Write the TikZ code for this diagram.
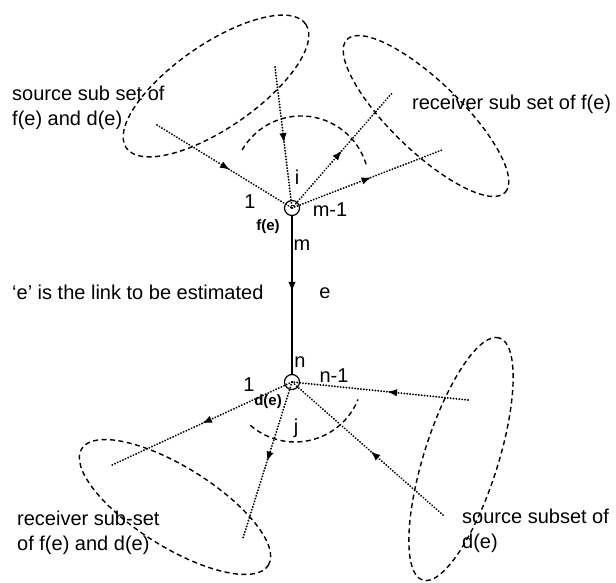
\documentclass[tikz,border=0pt]{standalone}
\usepackage{fontspec}
\setmainfont{Liberation Sans}
\usetikzlibrary{arrows.meta,decorations.markings}
\begin{document}
\begin{tikzpicture}[x=1pt,y=1pt,
  every node/.style={font=\fontsize{20}{25}\selectfont, inner sep=0pt},
  setline/.style={dash pattern=on 5pt off 3.5pt, line width=1.4pt},
  dotline/.style={dash pattern=on 0.01pt off 2.9pt, line cap=round, line width=2.1pt},
  midarrow/.style={postaction={decorate},
    decoration={markings, mark=at position #1 with {\arrow{Latex[length=10pt,width=7.5pt]}}}},
  endpt/.style={circle, draw, line width=1.2pt, minimum size=15pt},
  small/.style={font=\fontsize{15}{18}\selectfont\bfseries}
]
\useasboundingbox (0,0) rectangle (616,-583);

% end nodes
\node[endpt] (f) at (292,-208) {};
\node[endpt] (d) at (292,-382) {};

% free ends of connectors
\coordinate (a1) at (157,-125);
\coordinate (a2) at (275,-67);
\coordinate (a3) at (392,-93);
\coordinate (a4) at (442,-150);
\coordinate (b1) at (112,-465);
\coordinate (b2) at (243,-538);
\coordinate (b3) at (468,-400);
\coordinate (b4) at (443,-515);

% sub-set ellipses
\draw[setline, rotate around={34.6:(216,-86)}] (216,-86) ellipse [x radius=109, y radius=42];
\draw[setline, rotate around={-44:(426,-116)}] (426,-116) ellipse [x radius=110, y radius=35];
\draw[setline, rotate around={72.4:(461,-459)}] (461,-459) ellipse [x radius=127, y radius=37];
\draw[setline, rotate around={-32:(175,-507)}] (175,-507) ellipse [x radius=110, y radius=40];

% dashed arcs
\draw[setline] (301,-184) ++(150:68) arc [start angle=150, end angle=16, radius=68];
\draw[setline] (295,-374) ++(229:68) arc [start angle=229, end angle=338, radius=68];

% dotted connectors at f(e)
\draw[dotline, midarrow=0.54] (a1) -- (f.center);
\draw[dotline, midarrow=0.54] (a2) -- (f.center);
\draw[dotline, midarrow=0.5] (f.center) -- (a3);
\draw[dotline, midarrow=0.53] (f.center) -- (a4);

% dotted connectors at d(e)
\draw[dotline, midarrow=0.5] (d.center) -- (b1);
\draw[dotline, midarrow=0.51] (d.center) -- (b2);
\draw[dotline, midarrow=0.46] (b3) -- (d.center);
\draw[dotline, midarrow=0.48] (b4) -- (d.center);

% the link e
\draw[line width=1.8pt, midarrow=0.48] (f) -- (d);

% labels
\node (l1) at (250,-202) {1};
\node (li) at (297,-177) {i};
\node (lm1) at (330,-210) {m-1};
\node[small] (lf) at (268,-227) {f(e)};
\node (lm) at (302,-245) {m};
\node (le) at (325,-293) {e};
\node (ln) at (300,-362) {n};
\node (ln1) at (334,-376) {n-1};
\node (l1b) at (249,-385) {1};
\node[small] (ld) at (268,-402) {d(e)};
\node (lj) at (296,-428) {j};

\node[anchor=west] (tlink) at (12,-292) {`e' is the link to be estimated};
\node[anchor=west, align=left] (tsrc) at (12,-108) {source sub set of\\f(e) and d(e)};
\node[anchor=west] (trcv) at (412,-104) {receiver sub set of f(e)};
\node[anchor=west, align=left] (trcv2) at (17,-533) {receiver sub-set\\of f(e) and d(e)};
\node[anchor=west, align=left] (tsrc2) at (462,-531) {source subset of\\d(e)};
\end{tikzpicture}
\end{document}
